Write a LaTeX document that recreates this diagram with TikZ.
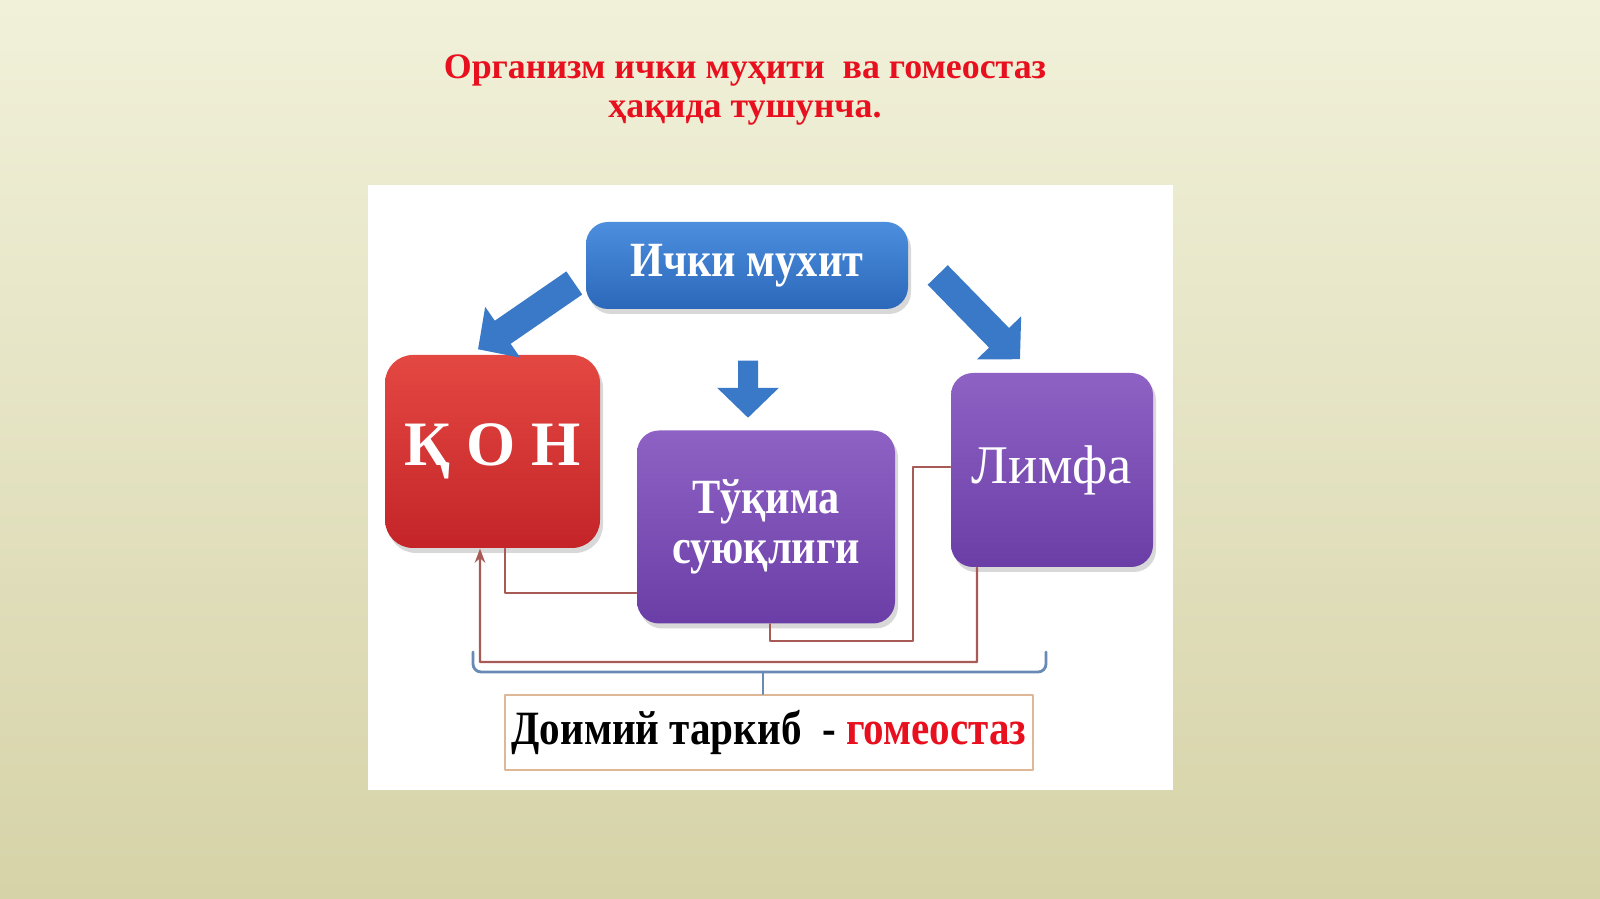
\documentclass[tikz,border=0pt]{standalone}
\usepackage{fontspec}
\setmainfont{Liberation Serif}
\newfontfamily\narrowserif{Liberation Serif}[FakeStretch=0.86]
\usetikzlibrary{positioning,arrows.meta,shadows}
\definecolor{bgtop}{RGB}{241,241,218}
\definecolor{bgbot}{RGB}{214,211,168}
\definecolor{titlered}{RGB}{232,16,30}
\definecolor{blueT}{RGB}{76,142,222}
\definecolor{blueB}{RGB}{44,104,186}
\definecolor{redT}{RGB}{228,72,66}
\definecolor{redB}{RGB}{196,36,40}
\definecolor{violetT}{RGB}{142,98,196}
\definecolor{violetB}{RGB}{106,62,166}
\definecolor{arrowblue}{RGB}{58,120,200}
\definecolor{linkred}{RGB}{168,90,86}
\definecolor{bracegrey}{RGB}{104,138,180}
\definecolor{frametan}{RGB}{222,184,150}
\begin{document}
\begin{tikzpicture}[line join=round,line cap=round,>=stealth,
	box/.style={rounded corners=0.22cm,text=white,align=center,inner sep=0pt,
		drop shadow={opacity=0.3,shadow xshift=0.03cm,shadow yshift=-0.05cm}},
	blockarr/.style={arrowblue,line width=0.28cm,line cap=butt,-{Triangle[width=0.6cm,length=0.3cm]}},
	link/.style={linkred,line width=0.6pt},
	brace/.style={bracegrey,line width=0.8pt,rounded corners=0.08cm}]
	\useasboundingbox (0,0) rectangle (16,8.99);
	\shade[top color=bgtop,bottom color=bgbot] (0,0) rectangle (16,8.99);
	\fill[white] (3.68,1.09) rectangle (11.73,7.14);
	% title
	\node[titlered,font=\fontsize{10.2pt}{11.2pt}\selectfont\bfseries,align=center] (title) at (7.45,8.09)
		{Организм ички муҳити\ \ ва гомеостаз\\ҳақида тушунча.};
	% boxes
	\node[box,top color=blueT,bottom color=blueB,minimum width=3.22cm,minimum height=0.87cm,
		font=\narrowserif\fontsize{14pt}{15pt}\selectfont\bfseries] (ichki) at (7.47,6.335) {Ички мухит};
	\node[box,rounded corners=0.28cm,top color=redT,bottom color=redB,minimum width=2.15cm,minimum height=1.93cm,
		font=\fontsize{18pt}{20pt}\selectfont\bfseries] (kon) at (4.925,4.475) {Қ О Н};
	\node[box,top color=violetT,bottom color=violetB,minimum width=2.58cm,minimum height=1.93cm,
		font=\narrowserif\fontsize{14pt}{14.2pt}\selectfont\bfseries] (tuk) at (7.66,3.72) {Тўқима\\суюқлиги};
	\node[box,top color=violetT,bottom color=violetB,minimum width=2.02cm,minimum height=1.94cm,
		font=\fontsize{15.5pt}{17pt}\selectfont] (limfa) at (10.52,4.29) {Лимфа};
	\node[draw=frametan,line width=0.7pt,fill=white,minimum width=5.28cm,minimum height=0.75cm,inner sep=0pt,
		font=\narrowserif\fontsize{13.6pt}{15pt}\selectfont\bfseries] (bottom) at (7.69,1.665)
		{Доимий таркиб\ \ -\ \textcolor{titlered}{гомеостаз}};
	% block arrows
	\draw[blockarr] ([xshift=-0.11cm,yshift=-0.175cm]ichki.west) -- ([xshift=-0.145cm,yshift=0.05cm]kon.north);
	\draw[blockarr,line width=0.2cm] ([xshift=0.01cm,yshift=-0.51cm]ichki.south) -- ([xshift=-0.18cm,yshift=0.12cm]tuk.north);
	\draw[blockarr] ([xshift=0.29cm,yshift=-0.095cm]ichki.east) -- ([xshift=-0.32cm,yshift=0.13cm]limfa.north);
	% links
	\coordinate (bendA) at (9.13,2.58);
	\coordinate (bendB) at (4.80,2.37);
	\draw[link] ([xshift=0.125cm]kon.south) |- ([yshift=-0.66cm]tuk.west);
	\draw[link] ([xshift=0.04cm]tuk.south) |- (bendA) |- ([yshift=0.03cm]limfa.west);
	\draw[link,-{Stealth[length=4pt,width=3pt]}] ([xshift=-0.75cm]limfa.south) |- (bendB) -- ([xshift=-0.125cm]kon.south);
	% brace
	\coordinate (brL) at (4.73,2.47);
	\coordinate (brR) at (10.46,2.47);
	\coordinate (brM) at (7.63,2.27);
	\draw[brace] (brL) |- (brM) -| (brR);
	\draw[brace] (brM) -- (brM |- bottom.north);
\end{tikzpicture}
\end{document}
